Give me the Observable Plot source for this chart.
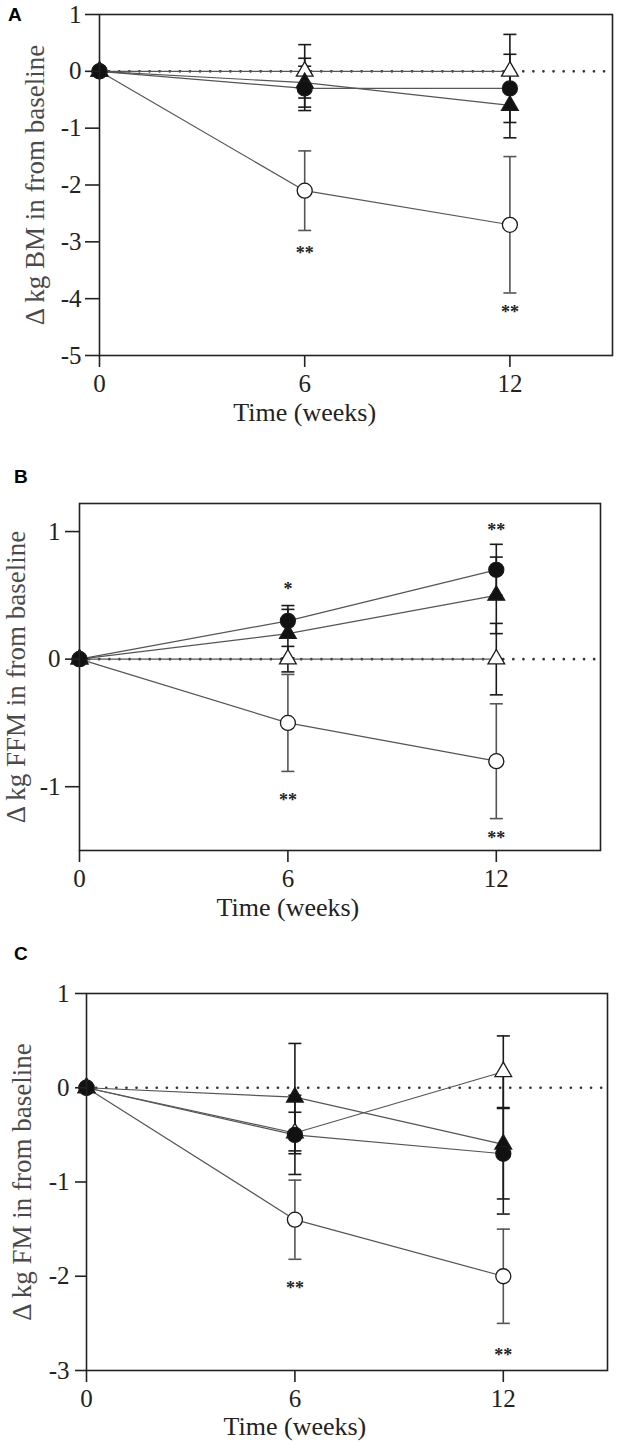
<!DOCTYPE html>
<html>
<head>
<meta charset="utf-8">
<script src="https://cdn.jsdelivr.net/npm/d3@7"></script>
<script src="https://cdn.jsdelivr.net/npm/@observablehq/plot@0.6"></script>
<style>
  html, body { margin: 0; padding: 0; background: #fff; }
  #root { position: relative; width: 617px; height: 1447px; overflow: hidden; }
  .panel { position: absolute; left: 0; }
  .letter { position: absolute; font: bold 19px/19px "Liberation Sans", Arial, sans-serif; color: #000; }
</style>
</head>
<body>
<div id="root"></div>
<script>
// ---------- data ----------
const weeks = [0, 6, 12];
const seriesNames = ["open circle", "open triangle", "filled triangle", "filled circle"];

// Panel A: change in body mass (kg)
const bmMeans = [[0, -2.1, -2.7], [0, 0, 0], [0, -0.2, -0.6], [0, -0.3, -0.3]];
const bmSE    = [[0, 0.7, 1.2],   [0, 0.47, 0.65], [0, 0.43, 0.57], [0, 0.39, 0.6]];
const bmStarWeeks = [6, 12];
const bmStarY = [-3.13, -4.16];
const bmStarText = ["**", "**"];

// Panel B: change in fat-free mass (kg)
const ffmMeans = [[0, -0.5, -0.8], [0, 0, 0], [0, 0.2, 0.5], [0, 0.3, 0.7]];
const ffmSE    = [[0, 0.38, 0.45], [0, 0.1, 0.28], [0, 0.19, 0.3], [0, 0.12, 0.2]];
const ffmStarWeeks = [6, 12, 6, 12];
const ffmStarY = [0.58, 1.04, -1.075, -1.37];
const ffmStarText = ["*", "**", "**", "**"];

// Panel C: change in fat mass (kg)
const fmMeans = [[0, -1.4, -2.0], [0, -0.48, 0.17], [0, -0.1, -0.6], [0, -0.5, -0.7]];
const fmSE    = [[0, 0.42, 0.5],  [0, 0.22, 0.38], [0, 0.57, 0.74], [0, 0.42, 0.48]];
const fmStarWeeks = [6, 12];
const fmStarY = [-2.09, -2.80];
const fmStarText = ["**", "**"];

const xLabel = "Time (weeks)";
const yLabels = ["\u0394 kg BM in from baseline", "\u0394 kg FFM in from baseline", "\u0394 kg FM in from baseline"];
const panelLetters = ["A", "B", "C"];

// ---------- drawing ----------
const serif = "'Liberation Serif', 'Times New Roman', Times, serif";
const capSymbol = {
  draw(ctx, size) {
    const w = Math.sqrt(size / Math.PI);
    ctx.moveTo(-w, 0);
    ctx.lineTo(w, 0);
  }
};
const markerStyle = {
  "open circle":     {symbol: "circle",   fill: "#fff", r: 7.5},
  "open triangle":   {symbol: "triangle", fill: "#fff", r: 6.2},
  "filled triangle": {symbol: "triangle", fill: "#111", r: 6.2},
  "filled circle":   {symbol: "circle",   fill: "#111", r: 7.5}
};
const barColor = d => d.series === "open circle" ? "#555" : "#1a1a1a";

function makePanel(cfg) {
  const rows = [];
  seriesNames.forEach((s, i) => weeks.forEach((w, j) => rows.push({series: s, week: w, v: cfg.means[i][j], se: cfg.se[i][j]})));
  const bars = rows.filter(d => d.se > 0);
  const stars = cfg.starWeeks.map((w, i) => ({week: w, y: cfg.starY[i], t: cfg.starText[i]}));
  const marks = [
    Plot.ruleY([0], {stroke: "#333", strokeWidth: 2.6, strokeDasharray: "0.1,10", strokeLinecap: "round"}),
    Plot.line(rows, {x: "week", y: "v", z: "series", stroke: "#555", strokeWidth: 1.2}),
    Plot.ruleX(bars, {x: "week", y1: d => d.v - d.se, y2: d => d.v + d.se, stroke: barColor, strokeWidth: 1.6}),
    Plot.dot(bars, {x: "week", y: d => d.v - d.se, symbol: capSymbol, r: 6.5, stroke: barColor, strokeWidth: 1.6, fill: "none"}),
    Plot.dot(bars, {x: "week", y: d => d.v + d.se, symbol: capSymbol, r: 6.5, stroke: barColor, strokeWidth: 1.6, fill: "none"})
  ];
  for (const s of seriesNames) {
    const st = markerStyle[s];
    marks.push(Plot.dot(rows.filter(d => d.series === s), {
      x: "week", y: "v", symbol: st.symbol, r: st.r, fill: st.fill, stroke: "#1a1a1a", strokeWidth: 1.3
    }));
  }
  marks.push(
    Plot.text(stars, {x: "week", y: "y", text: "t", fontSize: 18, fontWeight: "bold", fontFamily: serif, fill: "#222", dy: 4}),
    Plot.frame({stroke: "#222", strokeWidth: 1.6}),
    Plot.axisX({ticks: weeks, tickFormat: d => String(d), tickSize: 12, tickPadding: 7,
      fontSize: 25, fontFamily: serif, fill: "#222", stroke: "#222", strokeWidth: 1.6, label: null}),
    Plot.axisY({ticks: cfg.yTicks, tickFormat: d => String(d), tickSize: cfg.yTickSize, tickPadding: cfg.yTickPadding,
      fontSize: 25, fontFamily: serif, fill: "#222", stroke: "#222", strokeWidth: 1.6, label: null}),
    Plot.text([xLabel], {x: () => 6, text: d => d, frameAnchor: "bottom", dy: cfg.xLabelDy,
      fontSize: 26, fontFamily: serif, fill: "#222"}),
    Plot.text([cfg.yLabel], {frameAnchor: "left", text: d => d, rotate: -90, dx: cfg.yLabelDx,
      textAnchor: "middle", lineAnchor: "middle", fontSize: 27, fontFamily: serif, fill: "#4a4a4a"})
  );
  return Plot.plot({
    width: 617,
    height: cfg.height,
    marginTop: cfg.mt, marginRight: cfg.mr, marginBottom: cfg.mb, marginLeft: cfg.ml,
    style: {fontFamily: serif, background: "transparent", overflow: "visible"},
    x: {domain: [0, 15]},
    y: {domain: cfg.yDomain},
    marks
  });
}

const root = document.getElementById("root");
const panels = [
  {top: 0, height: 460, mt: 14, mr: 5, mb: 105, ml: 99, means: bmMeans, se: bmSE,
   starWeeks: bmStarWeeks, starY: bmStarY, starText: bmStarText,
   yDomain: [-5, 1], yTicks: [1, 0, -1, -2, -3, -4, -5], yTickSize: 14, yTickPadding: 4,
   yLabel: yLabels[0], yLabelDx: -64, xLabelDy: 65, letter: [8, 5]},
  {top: 460, height: 480, mt: 43, mr: 17, mb: 90, ml: 79, means: ffmMeans, se: ffmSE,
   starWeeks: ffmStarWeeks, starY: ffmStarY, starText: ffmStarText,
   yDomain: [-1.5, 1.22], yTicks: [1, 0, -1], yTickSize: 14, yTickPadding: 5,
   yLabel: yLabels[1], yLabelDx: -63, xLabelDy: 65, letter: [14, 467]},
  {top: 940, height: 507, mt: 53, mr: 10, mb: 77, ml: 86, means: fmMeans, se: fmSE,
   starWeeks: fmStarWeeks, starY: fmStarY, starText: fmStarText,
   yDomain: [-3, 1], yTicks: [1, 0, -1, -2, -3], yTickSize: 11, yTickPadding: 6,
   yLabel: yLabels[2], yLabelDx: -64, xLabelDy: 64, letter: [14, 944]}
];
panels.forEach((cfg, i) => {
  const div = document.createElement("div");
  div.className = "panel";
  div.style.top = cfg.top + "px";
  div.appendChild(makePanel(cfg));
  root.appendChild(div);
  const L = document.createElement("div");
  L.className = "letter";
  L.style.left = cfg.letter[0] + "px";
  L.style.top = cfg.letter[1] + "px";
  L.textContent = panelLetters[i];
  root.appendChild(L);
});
</script>
</body>
</html>
